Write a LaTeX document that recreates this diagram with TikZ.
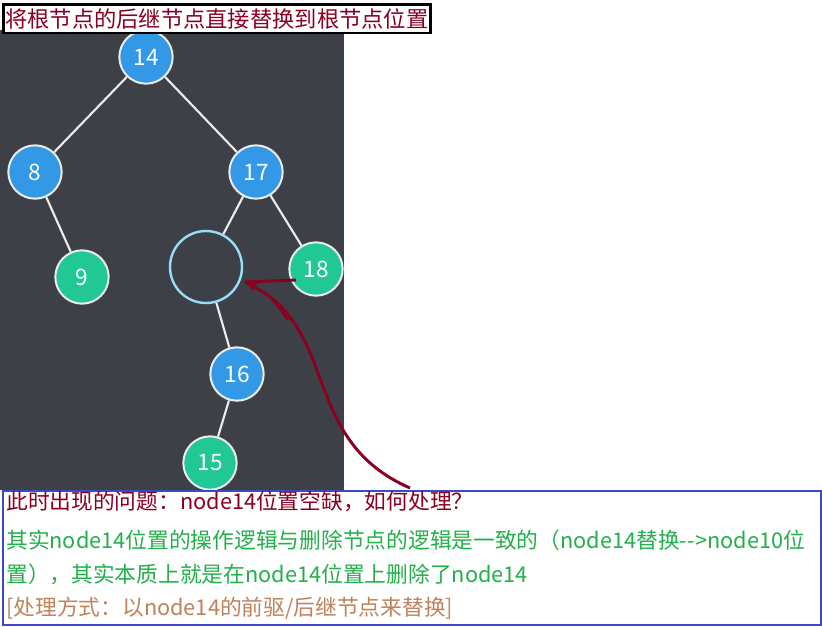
\documentclass[tikz,border=0pt]{standalone}
\usepackage{fontspec}
\setmainfont{Noto Sans CJK SC}
\usetikzlibrary{arrows.meta}
\definecolor{panel}{HTML}{3D4147}
\definecolor{nblue}{HTML}{3399E6}
\definecolor{ngreen}{HTML}{22C796}
\definecolor{dred}{HTML}{8B0020}
\definecolor{tgreen}{HTML}{22B04A}
\definecolor{tbrown}{HTML}{C0825A}
\definecolor{bbox}{HTML}{3B4BC8}
\begin{document}
\begin{tikzpicture}[x=0.75pt,y=-0.75pt,
  tn/.style={circle,draw=white!85!gray,line width=1.5pt,minimum size=40pt,inner sep=0pt,text=white,font=\fontsize{17}{17}\selectfont},
  bn/.style={tn,fill=nblue},
  gn/.style={tn,fill=ngreen},
  edge/.style={draw=white!85!gray,line width=1.6pt},
  txt/.style={anchor=west,font=\fontsize{16.3}{17}\selectfont,inner sep=0pt}]
\useasboundingbox (0,0) rectangle (822,626);
\fill[panel] (0,30) rectangle (344,490);
\node[bn] (n14) at (146,57) {14};
\node[bn] (n8) at (35,172) {8};
\node[bn] (n17) at (256,172) {17};
\node[gn] (n9) at (82,277) {9};
\node[circle,draw=cyan!40!white,line width=1.8pt,minimum size=54pt] (e) at (206,267) {};
\node[gn] (n18) at (316,269) {18};
\node[bn] (n16) at (237,374) {16};
\node[gn] (n15) at (210,463) {15};
\draw[edge] (n14)--(n8);
\draw[edge] (n14)--(n17);
\draw[edge] (n8)--(n9);
\draw[edge] (n17)--(e);
\draw[edge] (n17)--(n18);
\draw[edge] (e)--(n16);
\draw[edge] (n16)--(n15);
\node[draw=black,line width=2pt,fill=white,text=dred,inner xsep=1.5pt,inner ysep=3pt,anchor=north west,font=\fontsize{16.7}{17}\selectfont] (title) at (2,3) {将根节点的后继节点直接替换到根节点位置};
\node[draw=bbox,line width=1.5pt,fill=white,minimum width=818pt*0.75,minimum height=134pt*0.75,anchor=north west,inner sep=0pt] (box) at (2,490) {};
\node[txt,text=dred] (l1) at (6,501) {此时出现的问题：node14位置空缺，如何处理？};
\node[txt,text=tgreen] (l2) at (6,540) {其实node14位置的操作逻辑与删除节点的逻辑是一致的（node14替换-{}-{}>node10位};
\node[txt,text=tgreen] (l3) at (6,574) {置），其实本质上就是在node14位置上删除了node14};
\node[txt,text=tbrown] (l4) at (6,608) {[处理方式：以node14的前驱/后继节点来替换]};
\coordinate (a0) at (410,488);
\coordinate (a1) at (245,282);
\draw[dred,line width=2.2pt,-{Stealth[length=9pt]}] (a0) .. controls (300,440) and (340,330) .. (a1);
\draw[dred,line width=2.2pt] (a1) -- (296,280);
\draw[dred,line width=1.8pt] (a1) .. controls (270,295) .. (288,320);
\end{tikzpicture}
\end{document}
